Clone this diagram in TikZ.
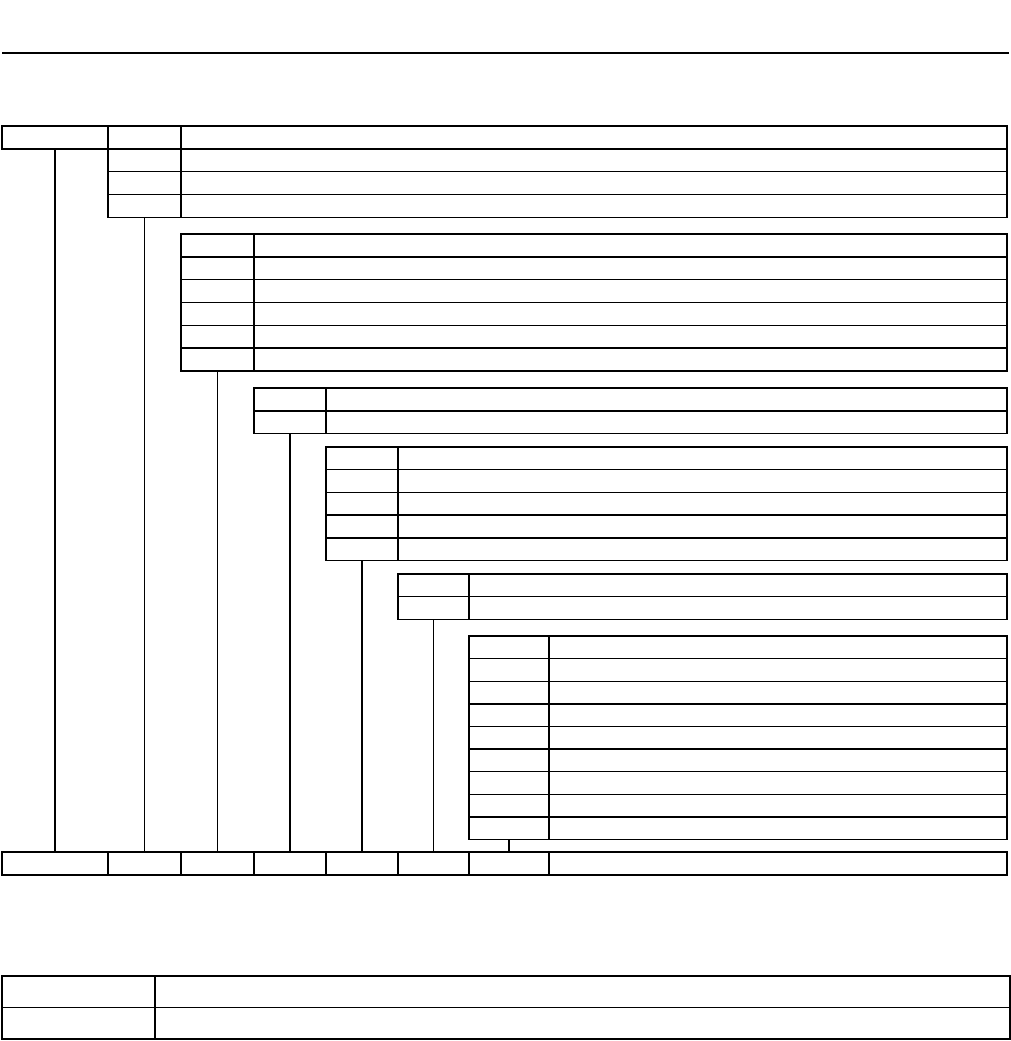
\documentclass[tikz,border=0pt]{standalone}
\usepackage{tikz}
\usetikzlibrary{positioning}

\tikzset{
  cell/.style={draw, line width=1.4pt, inner sep=0pt, outer sep=0pt, anchor=north west, minimum height=22.8pt},
  link/.style={line width=1.4pt}
}

\begin{document}
\begin{tikzpicture}[x=1pt, y=-1pt]
  \useasboundingbox (0,0) rectangle (1011,1041);
  \draw[link] (2,53) -- (1009,53);
  % head box
  \node[cell, minimum width=106pt] (head) at (2,126) {};
  % nested groups: index/top/left/label width/rows/row height
  \foreach \g/\ty/\lx/\w/\n/\h in {1/126/108/73/4/22.8, 2/234/181/73/6/22.8, 3/388/254/72/2/22.8,
      4/447/326/72/5/22.7, 5/574/398/71/2/22.7, 6/636/469/80/9/22.6} {
    \pgfmathsetmacro\rest{1007-\lx-\w}
    \foreach \r in {1,...,\n} {
      \node[cell, minimum width=\w pt, minimum height=\h pt] (l\g-\r) at (\lx, {\ty+(\r-1)*\h}) {};
      \node[cell, minimum width=\rest pt, minimum height=\h pt, right=0pt of l\g-\r] (v\g-\r) {};
    }
  }
  % bottom row
  \foreach \i/\xa/\xb in {1/2/108, 2/108/181, 3/181/254, 4/254/326, 5/326/398, 6/398/469, 7/469/549, 8/549/1007} {
    \pgfmathsetmacro\bw{\xb-\xa}
    \node[cell, minimum width=\bw pt] (b\i) at (\xa,852) {};
  }
  % connectors
  \draw[link] (head.south) -- (b1.north);
  \draw[link] (l1-4.south) -- (b2.north);
  \draw[link] (l2-6.south) -- (b3.north);
  \draw[link] (l3-2.south) -- (b4.north);
  \draw[link] (l4-5.south) -- (b5.north);
  \draw[link] (l5-2.south) -- (b6.north);
  \draw[link] (l6-9.south) -- (b7.north);
  % key table
  \foreach \r/\y in {1/976, 2/1007.5} {
    \node[cell, minimum width=153pt, minimum height=31.5pt] (k\r) at (2,\y) {};
    \node[cell, minimum width=855pt, minimum height=31.5pt, right=0pt of k\r] (m\r) {};
  }
\end{tikzpicture}
\end{document}
